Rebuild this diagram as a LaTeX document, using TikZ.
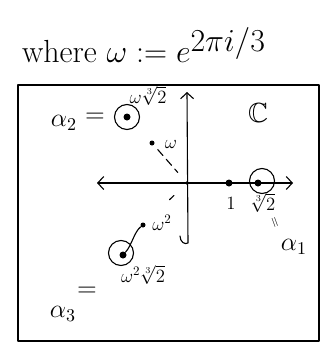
\documentclass[tikz,border=0pt]{standalone}
\usepackage{amssymb}
\usetikzlibrary{arrows.meta}
\tikzset{barb/.tip={Straight Barb[length=6pt,width=13pt]}}
\newcommand{\lbt}[1]{\scalebox{1.3}{\Large #1}}
\newcommand{\bgt}[1]{\scalebox{1.8}{\Large #1}}
\newcommand{\ttl}[1]{\scalebox{1.85}{\LARGE #1}}
\begin{document}
\begin{tikzpicture}[x=1pt,y=-1pt,
  ink/.style={line width=1.1pt, line cap=round, line join=round},
  lab/.style={inner sep=0pt},
  dot/.style={circle, fill, inner sep=0pt, minimum size=7pt},
  sdot/.style={circle, fill, inner sep=0pt, minimum size=5pt},
  ring/.style={circle, draw, line width=1.1pt, minimum size=25pt, inner sep=0pt}]
\useasboundingbox (0,0) rectangle (331,348);
% title
\node[lab] (title) at (144,45) {\ttl{where $\omega := e^{\textstyle 2\pi i/3}$}};
% frame
\node[draw, ink, minimum width=301pt, minimum height=256pt, inner sep=0pt] (frame) at (168.5,213) {};
% axes
\coordinate (O) at (187,183);
\coordinate (xl) at (97,183);
\coordinate (xr) at (293,183);
\coordinate (yt) at (187,92);
\coordinate (yb) at (188,243);
\coordinate (hook) at (180,236);
\draw[ink, barb-barb] (xl) -- (xr);
\draw[ink, -barb] (hook) .. controls (180,242) and (185,245) .. (yb) -- (yt);
\node[circle, draw, line width=0.6pt, inner sep=0pt, minimum size=3pt] (o) at (O) {};
% C
\node[lab] (C) at (258,113) {\scalebox{1.6}{\LARGE $\mathbb{C}$}};
% 1
\node[dot] (one) at (229,183) {};
\node[lab] (onel) at (231,203) {\lbt{$1$}};
% alpha1
\node[dot] (a1) at (258,183) {};
\node[ring] (a1r) at (262,181) {};
\node[lab] (a1l) at (263,203) {\lbt{$\sqrt[3]{2}$}};
\node[lab, rotate=-70] (a1eq) at (274,223) {\Large$=$};
\node[lab] (a1n) at (294,247) {\bgt{$\alpha_1$}};
% alpha2
\node[dot] (a2) at (127,117) {};
\node[ring] (a2r) at (127,117) {};
\node[lab] (a2l) at (148,96) {\lbt{$\omega\sqrt[3]{2}$}};
\node[lab] (a2n) at (64,123) {\bgt{$\alpha_2$}};
\node[lab] (a2eq) at (95,118) {\bgt{$=$}};
% omega
\node[sdot] (w) at (152,143) {};
\node[lab] (wl) at (171,144) {\lbt{$\omega$}};
\draw[ink, dash pattern=on 8pt off 5pt, shorten <=6pt, shorten >=14pt] (w) -- (O);
% omega^2
\node[sdot] (w2) at (143,225) {};
\node[lab] (w2l) at (162,223) {\lbt{$\omega^2$}};
\draw[ink, shorten <=34pt, shorten >=18pt] (w2) -- (O);
% alpha3
\node[dot] (a3) at (123,255) {};
\node[ring] (a3r) at (121,253) {};
\draw[ink] (a3) .. controls (132,245) and (134,232) .. (w2);
\node[lab] (a3l) at (143,275) {\lbt{$\omega^2\sqrt[3]{2}$}};
\node[lab] (a3eq) at (87,292) {\bgt{$=$}};
\node[lab] (a3n) at (63,314) {\bgt{$\alpha_3$}};
\end{tikzpicture}
\end{document}
